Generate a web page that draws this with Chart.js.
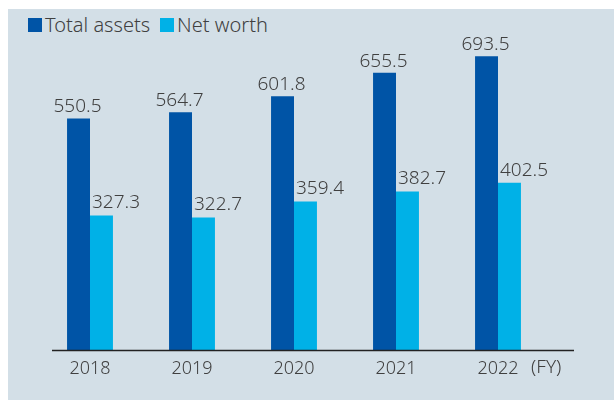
<!DOCTYPE html>
<html>
<head>
<meta charset="utf-8">
<script src="https://cdn.jsdelivr.net/npm/chart.js@4/dist/chart.umd.min.js"></script>
<style>
  html, body { margin: 0; padding: 0; background: #ffffff; }
  #panel {
    position: absolute; left: 8px; top: 9px; width: 606px; height: 391px;
    background: #d3dfe7; font-family: 'Noto Sans', sans-serif;
  }
  #legend { position: absolute; left: 20px; top: 2px; display: flex; color: #404040; font-size: 20px; font-weight: 300; }
  #legend .item { display: flex; align-items: center; margin-right: 10px; }
  #legend .box { width: 14px; height: 14px; margin-right: 3px; }
  canvas { position: absolute; left: 0; top: 0; }
</style>
</head>
<body>
<div id="panel">
  <div id="legend"></div>
  <canvas id="chart" width="606" height="391"></canvas>
</div>
<script>
const years = ['2018', '2019', '2020', '2021', '2022'];
const totalAssets = [550.5, 564.7, 601.8, 655.5, 693.5];
const netWorth = [327.3, 322.7, 359.4, 382.7, 402.5];
const seriesNames = ['Total assets', 'Net worth'];
const seriesColors = ['#0054a6', '#00b1e7'];
const unitLabel = '(FY)';

const textColor = '#404040';
const fontFamily = "'Noto Sans', sans-serif";
const labelFont = '300 19px ' + fontFamily;

// Legend built from the series names.
const legendEl = document.getElementById('legend');
seriesNames.forEach((name, i) => {
  const item = document.createElement('div');
  item.className = 'item';
  const box = document.createElement('span');
  box.className = 'box';
  box.style.background = seriesColors[i];
  const label = document.createElement('span');
  label.textContent = name;
  item.appendChild(box);
  item.appendChild(label);
  legendEl.appendChild(item);
});

// Value labels above bars, baseline and (FY) label.
const decorations = {
  id: 'decorations',
  afterDatasetsDraw(chart) {
    const ctx = chart.ctx;
    const area = chart.chartArea;
    ctx.save();
    ctx.font = labelFont;
    ctx.fillStyle = textColor;
    ctx.textBaseline = 'bottom';
    chart.data.datasets.forEach((ds, di) => {
      chart.getDatasetMeta(di).data.forEach((bar, i) => {
        const text = ds.data[i].toFixed(1);
        if (di === 0) {
          ctx.textAlign = 'center';
          ctx.fillText(text, bar.x - 1, bar.y - 2);
        } else {
          // net worth labels sit right of the bar's left edge
          ctx.textAlign = 'left';
          ctx.fillText(text, bar.x - bar.width / 2 + 2, bar.y - 3);
        }
      });
    });

    ctx.strokeStyle = '#222222';
    ctx.lineWidth = 1.5;
    ctx.beginPath();
    ctx.moveTo(area.left + 13, area.bottom + 0.5);
    ctx.lineTo(area.right + 25, area.bottom + 0.5);
    ctx.stroke();

    ctx.textAlign = 'left';
    ctx.textBaseline = 'top';
    const xs = chart.scales.x;
    ctx.fillText(unitLabel, xs.getPixelForValue(years.length - 1) + 33, area.bottom + 8);
    ctx.restore();
  }
};

new Chart(document.getElementById('chart'), {
  type: 'bar',
  data: {
    labels: years,
    datasets: [
      { label: seriesNames[0], data: totalAssets, backgroundColor: seriesColors[0] },
      { label: seriesNames[1], data: netWorth, backgroundColor: seriesColors[1] }
    ]
  },
  options: {
    responsive: false,
    animation: false,
    layout: { padding: { left: 31, right: 65, top: 31, bottom: 0 } },
    plugins: {
      legend: { display: false },
      tooltip: { enabled: false }
    },
    datasets: {
      bar: { barPercentage: 1, categoryPercentage: 0.45 }
    },
    scales: {
      x: {
        grid: { display: false, drawTicks: false },
        border: { display: false },
        ticks: {
          color: textColor,
          padding: 8,
          font: { family: fontFamily, size: 18, weight: 300 }
        },
        afterFit(scale) { scale.height = 50; }
      },
      y: {
        display: false,
        min: 18,
        max: 731
      }
    }
  },
  plugins: [decorations]
});
</script>
</body>
</html>
